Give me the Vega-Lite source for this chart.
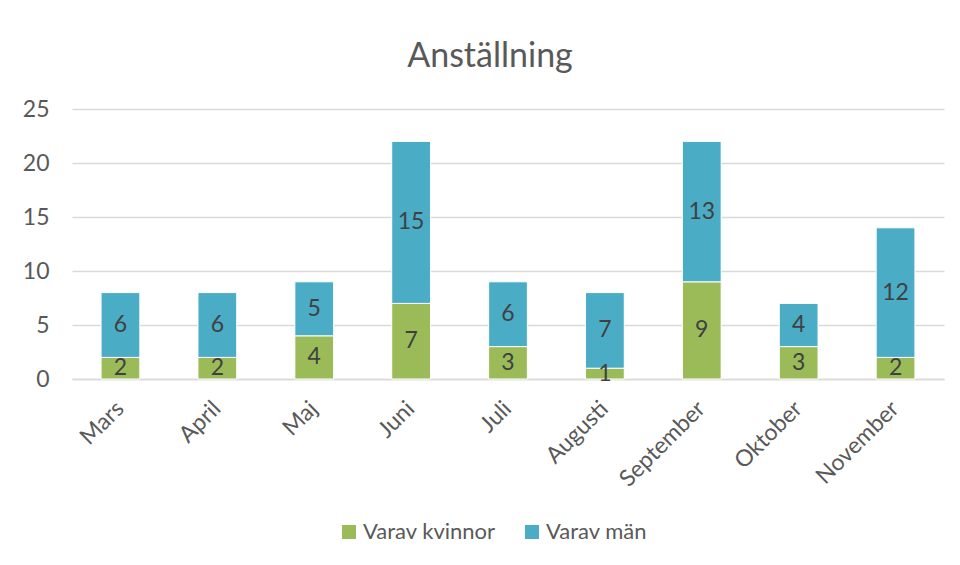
{
  "$schema": "https://vega.github.io/schema/vega-lite/v6.json",
  "width": 872,
  "height": 270,
  "autosize": {"type": "none"},
  "padding": {"left": 72, "top": 109, "right": 16, "bottom": 186},
  "background": "white",
  "config": {
    "font": "Lato",
    "view": {"stroke": null}
  },
  "title": {
    "text": "Anställning",
    "fontSize": 34,
    "fontWeight": "normal",
    "color": "#595959",
    "font": "Lato",
    "anchor": "middle",
    "offset": 24,
    "dx": -18
  },
  "data": {
    "values": [
      {"month": "Mars", "series": "Varav kvinnor", "value": 2},
      {"month": "Mars", "series": "Varav män", "value": 6},
      {"month": "April", "series": "Varav kvinnor", "value": 2},
      {"month": "April", "series": "Varav män", "value": 6},
      {"month": "Maj", "series": "Varav kvinnor", "value": 4},
      {"month": "Maj", "series": "Varav män", "value": 5},
      {"month": "Juni", "series": "Varav kvinnor", "value": 7},
      {"month": "Juni", "series": "Varav män", "value": 15},
      {"month": "Juli", "series": "Varav kvinnor", "value": 3},
      {"month": "Juli", "series": "Varav män", "value": 6},
      {"month": "Augusti", "series": "Varav kvinnor", "value": 1},
      {"month": "Augusti", "series": "Varav män", "value": 7},
      {"month": "September", "series": "Varav kvinnor", "value": 9},
      {"month": "September", "series": "Varav män", "value": 13},
      {"month": "Oktober", "series": "Varav kvinnor", "value": 3},
      {"month": "Oktober", "series": "Varav män", "value": 4},
      {"month": "November", "series": "Varav kvinnor", "value": 2},
      {"month": "November", "series": "Varav män", "value": 12}
    ]
  },
  "encoding": {
    "x": {
      "field": "month",
      "type": "nominal",
      "sort": ["Mars", "April", "Maj", "Juni", "Juli", "Augusti", "September", "Oktober", "November"],
      "scale": {"paddingInner": 0.6, "paddingOuter": 0.3},
      "axis": {
        "title": null,
        "labelAngle": -45,
        "labelAlign": "right",
        "labelBaseline": "top",
        "labelFontSize": 23,
        "labelColor": "#595959",
        "labelPadding": 18,
        "labelOffset": -8,
        "ticks": false,
        "domainColor": "#D9D9D9",
        "domainWidth": 1.5,
        "grid": false
      }
    }
  },
  "layer": [
    {
      "mark": {"type": "bar", "stroke": "white", "strokeWidth": 1},
      "encoding": {
        "y": {
          "field": "value",
          "type": "quantitative",
          "stack": "zero",
          "scale": {"domain": [0, 25], "nice": false},
          "axis": {
            "title": null,
            "values": [0, 5, 10, 15, 20, 25],
            "labelFontSize": 23,
            "labelColor": "#595959",
            "labelPadding": 23,
            "ticks": false,
            "domain": false,
            "gridColor": "#D9D9D9",
            "gridWidth": 1.5
          }
        },
        "color": {
          "field": "series",
          "type": "nominal",
          "scale": {"domain": ["Varav kvinnor", "Varav män"], "range": ["#9BBB59", "#4BACC6"]},
          "legend": {
            "title": null,
            "orient": "none",
            "direction": "horizontal",
            "legendX": 266,
            "legendY": 412,
            "symbolType": "square",
            "symbolSize": 196,
            "symbolStrokeWidth": 0,
            "symbolOpacity": 1,
            "labelFontSize": 22,
            "labelColor": "#595959",
            "labelOffset": 3,
            "columnPadding": 25
          }
        },
        "order": {"field": "series", "sort": "ascending"}
      }
    },
    {
      "transform": [
        {"stack": "value", "groupby": ["month"], "sort": [{"field": "series", "order": "ascending"}], "as": ["v0", "v1"]},
        {"fold": ["v0", "v1"], "as": ["edge", "pos"]}
      ],
      "mark": {"type": "text", "fontSize": 23, "color": "#404040", "baseline": "middle"},
      "encoding": {
        "y": {"aggregate": "mean", "field": "pos", "type": "quantitative"},
        "text": {"field": "value", "type": "quantitative"},
        "detail": {"field": "series", "type": "nominal"}
      }
    }
  ]
}
